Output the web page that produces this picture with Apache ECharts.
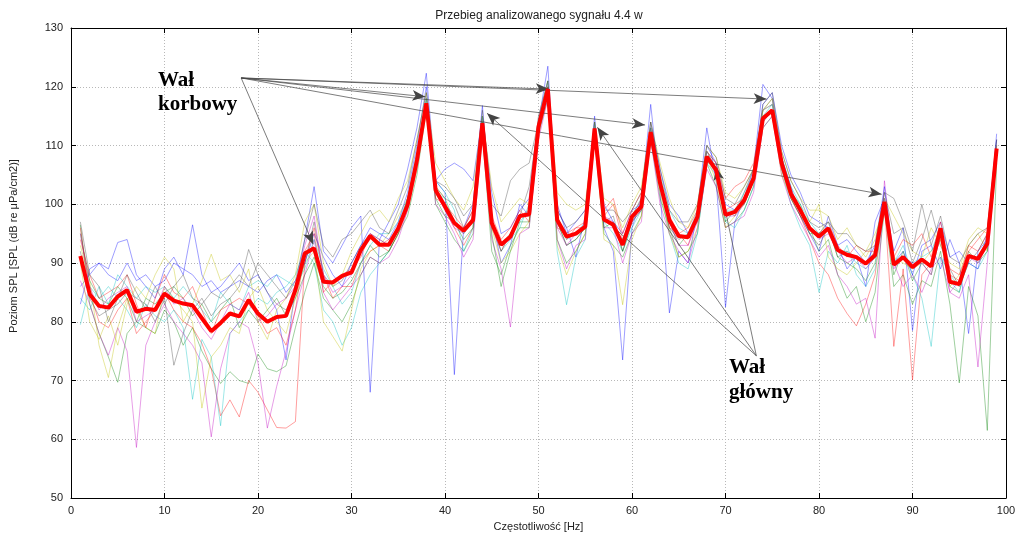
<!DOCTYPE html>
<html>
<head>
<meta charset="utf-8">
<script src="https://cdn.jsdelivr.net/npm/echarts@6/dist/echarts.min.js"></script>
<style>
html,body{margin:0;padding:0;background:#fff;overflow:hidden;}
#chart{width:1024px;height:534px;}
</style>
</head>
<body>
<div id="chart"></div>
<script>
const freqHz = [1,2,3,4,5,6,7,8,9,10,11,12,13,14,15,16,17,18,19,20,21,22,23,24,25,26,27,28,29,30,31,32,33,34,35,36,37,38,39,40,41,42,43,44,45,46,47,48,49,50,51,52,53,54,55,56,57,58,59,60,61,62,63,64,65,66,67,68,69,70,71,72,73,74,75,76,77,78,79,80,81,82,83,84,85,86,87,88,89,90,91,92,93,94,95,96,97,98,99];

const meanSPL = [91.2,84.7,82.7,82.4,84.3,85.4,81.7,82.2,82.0,84.8,
83.6,83.1,82.8,80.6,78.4,79.8,81.4,80.9,83.7,81.4,
80.0,80.8,81.0,85.4,91.6,92.5,86.8,86.7,87.8,88.4,
92.2,94.6,93.1,93.1,95.9,99.9,107.5,117.2,102.4,99.6,
96.8,95.5,97.3,113.8,96.8,93.1,94.5,98.0,98.3,113.2,
119.6,97.3,94.5,95.0,96.2,112.9,97.4,96.5,93.1,97.9,
99.6,112.3,103.6,97.3,94.6,94.4,97.9,108.1,105.8,98.2,
98.7,100.7,104.4,114.6,116.0,107.0,101.8,99.0,95.9,94.5,
95.9,92.2,91.4,91.0,89.9,91.3,100.4,89.7,91.0,89.3,
90.6,89.4,95.9,86.8,86.4,91.2,90.7,93.3,109.5];

const blue1 = [86,88,90,89,93.5,94,88,86,84,89,
91,88,96.5,88,85,86,88,90,87,88,
85,82,73.5,86,94,103,92,90,93,96,
98,68,94,97,100,106,113,122.3,104,102,
71,96,100,116.8,98,90,93,100,98,114,
123.5,99,96,91,98,115,96,92,73.5,96,
101,117,102,81.5,92,90,99,113,104,82.5,
97,101,106,120.4,118,108,103,98,95,92,
98,93,89,91,86,97,101,92,96,78.5,
92,93,89,94,90,78,92,94,112];
const blue2 = [83,89,90,88,87,90,87,88,86,87,
90,89,88,86,87,85,86,87,86,85,
87,88,85,87,90,95,91,88,86,90,
93,96,95,94,97,102,110,120,104,106,
107,106,104,115,102,95,96,99,101,115,
121,100,95,97,99,114,100,97,95,99,
100,114,106,100,98,95,98,110,107,100,
99,101,105,117,119,110,105,102,98,97,
96,93,94,92,90,93,103,90,92,88,
93,94,97,91,92,90,89,95,111];
const green1 = [96.5,83,78,74,69.7,78,80,79,78,82,
80,76,79,75,72,69.5,71.5,70,69.5,74.5,
72,71.5,72.5,79,85,90,84,82,80,83,
88,91,90,92,95,98,105,116,100,97,
94,92,95,112,92,88,93,96,96,112,
118,94,90,92,95,111,95,93,91,95,
98,111,101,96,91,92,95,107,103,96,
97,99,103,113,115,106,101,98,96,92,
94,88,84,86,80,85,99,86,88,83,
87,86,92,83,69.6,86,81,61.5,107];
const green2 = [95,87,84,83,86,84,80,84,83,85,
86,84,81,83,80,82,84,79,82,80,
82,84,81,84,88,91,86,84,85,87,
90,93,91,92,95,101,108,117,101,98,
97,94,96,114,95,86,92,97,97,112,
119,97,93,94,96,112,96,97,92,97,
99,112,103,97,93,95,98,108,106,97,
99,100,104,114,116,107,102,100,95,95,
96,91,90,89,87,90,100,88,92,87,
90,88,95,86,85,92,90,92,108];
const red1 = [96,85,80,79,82,84,78,80,82,85,
82,80,79,76.3,72,64,66.7,63.8,70,68,
65,62,61.9,63,90,96,88,84,86,86,
90,92,93,92,95,99,106,117,103,99,
96,93,96,113,96,92,95,98,99,113,
119,98,94,96,96,112,98,100,94,98,
101,112,104,98,95,93,98,109,106,99,
100,101,104,115,116,106,101,98,94,90,
88,84,81.4,79.3,83,88,100,75.8,89,70.1,
88,90,94,88,87,93,92,95,110];
const red2 = [94,88,84,85,86,88,83,79,84,88,
85,84,86,82,78,82,83,84,83,81,
78,79,76,82,92,95,85,87,88,89,
91,95,93,94,96,100,108,117,101,100,
98,96,99,114,98,94,96,99,97,113,
120,96,95,96,97,113,99,101,95,99,
102,113,104,96,95,96,99,109,107,101,
103,104,107,116,117,108,102,99,96,95,
97,93,91,93,92,92,100,91,94,93,
95,91,97,89,88,92,94,96,109];
const cyan1 = [79.5,86,84,86,84,82,79,83,81,80,
82,79,66.8,77,74,62.3,78,80,82,84,
83,85,86,88,92,90,82,80,76,79,
85,88,90,92,96,100,108,118,104,102,
99,92,96,114,97,92,94,96,100,114,
120,92,82.9,91,94,113,97,95,92,96,
99,113,103,95,90,89,95,107,105,97,
96,99,103,115,117,106,100,96,93,85,
92,90,93,88,86,89,99,90,93,88,
84,75.8,91,88,86,90,89,92,108];
const cyan2 = [84,82,86,83,88,86,84,86,85,86,
84,86,84,82,80,85,83,82,86,87,
86,88,87,86,89,94,89,86,83,85,
90,93,95,95,97,101,109,118,102,101,
97,95,97,115,97,93,95,97,99,114,
121,98,94,95,97,114,98,96,94,98,
101,113,105,99,96,95,99,109,106,99,
99,102,105,116,117,108,103,100,97,95,
97,92,92,90,89,91,101,90,91,90,
91,92,96,87,85,91,91,94,110];
const magenta1 = [87,83,78,74.3,79,75,58.6,76,80,83,
80,78,76,73,60.4,72,78,80,79,73,
61.9,69,75,82,88,94,85,82,84,86,
88,91,90,91,94,99,107,118,100,98,
95,91,94,112,94,89,79.1,95,96,111,
118,94,89,93,94,111,96,96,90,95,
97,111,100,95,92,90,96,106,103,96,
97,98,102,113,115,105,100,97,94,91,
93,88,86,83,84,77.2,104,90,86,88,
85,89,91,85,84,88,72.3,90,109];
const magenta2 = [95,86,82,84,85,86,80,81,82,86,
83,84,82,79,77,80,83,82,85,80,
81,83,84,86,93,98,88,85,86,88,
92,95,94,93,96,100,107,117,102,99,
96,95,98,113,96,93,94,98,98,113,
119,96,93,95,96,113,98,97,93,97,
99,112,103,97,93,93,97,108,105,98,
98,100,104,114,116,107,102,99,96,94,
95,92,90,91,89,91,101,89,91,90,
90,88,95,85,87,91,90,93,110];
const yellow1 = [93,87,76,70.5,79,84,82,79,78,86,
84,82,80,65.3,74,76,79,78,84,86,
82,80,78,84,90,92,80,77.5,75,82,
89,92,93,95,98,101,108,118,103,101,
97,95,98,114,96,90,92,95,97,113,
119,93,88,92,95,112,94,93,82.9,94,
98,112,102,95,91,92,96,108,104,96,
98,100,104,115,116,105,101,99,97,100,
91,89,88,90,92,95,99,91,90,89,
90,92,94,86,88,93,95,92,109];
const yellow2 = [90,80,77,81,76,83,86,84,88,91,
89,80,83,87,91.5,87,88,85,89,80,
77,82,84,88,97,100,90,86,88,92,
95,98,99,97,101,104,111,119,107,104,
101,99,103,115,103,97,99,101,100,115,
121,102,100,99,100,114,101,100,96,100,
103,114,107,101,97,96,100,110,108,102,
101,103,106,116,118,109,104,101,99,99,
98,94,96,93,91,94,101,98,95,92,
91,96,93,90,89,94,96,95,110];
const gray1 = [92,84,81,82,83,85,84,83,80,84,
72.6,78,82,84,81,83,84,86,92.3,88,
85,83,82,85,90,97,88,86,87,90,
93,95,94,93,96,101,108,117,103,101,
100,96,99,115,97,92,95,98,103,114,
120,97,93,94,96,113,97,98,92,97,
100,113,104,96,94,95,97,109,107,99,
98,102,106,116,118,107,101,98,95,93,
96,91,92,91,90,92,102,95,96,90,
94,99,93,89,86,90,92,95,111];
const gray2 = [97,88,86,80,84,88,85,82,86,83,
86,88,84,83,85,84,86,88,86,90,
88,86,84,87,94,100,93,91,94,95,
97,99,96,95,99,103,111,119,104,103,
101,98,100,116,100,98,104,106,107,114,
121,99,96,97,99,114,99,99,97,99,
102,114,106,99,97,97,100,110,108,101,
100,103,106,117,119,109,104,101,97,96,
97,95,95,93,92,93,102,101,97,92,
100,93,98,91,90,93,95,96,111];

const thinLines = [
  {values: blue1, color: '#0000ff'},
  {values: green1, color: '#008000'},
  {values: red1, color: '#ff0000'},
  {values: cyan1, color: '#00bfbf'},
  {values: magenta1, color: '#bf00bf'},
  {values: yellow1, color: '#bfbf00'},
  {values: gray1, color: '#404040'},
  {values: blue2, color: '#0000ff'},
  {values: green2, color: '#008000'},
  {values: red2, color: '#ff0000'},
  {values: cyan2, color: '#00bfbf'},
  {values: magenta2, color: '#bf00bf'},
  {values: yellow2, color: '#bfbf00'},
  {values: gray2, color: '#404040'}
];

const xTicks = [0,10,20,30,40,50,60,70,80,90,100];
const yTicks = [50,60,70,80,90,100,110,120,130];

// annotation anchors (data coordinates)
const korbowyFrom = [18.2, 121.5];
const korbowyTo = [[25.9, 93.2],[37.9, 118.3],[51.1, 119.6],[61.4, 113.5],[74.4, 117.9],[86.7, 101.7]];
const glownyFrom = [73.3, 74.2];
const glownyTo = [[44.5, 115.5],[56.3, 113.1],[69.0, 106.3]];

const pairs = v => freqHz.map((f, i) => [f, v[i]]);

const series = thinLines.map(t => ({
  type: 'line', data: pairs(t.values), symbol: 'none', silent: true,
  lineStyle: {color: t.color, width: 0.7, opacity: 0.55}, z: 2
}));

const arrowData = [];
korbowyTo.forEach(p => arrowData.push([{coord: korbowyFrom}, {coord: p}]));
glownyTo.forEach(p => arrowData.push([{coord: glownyFrom}, {coord: p}]));

series.push({
  type: 'line', data: pairs(meanSPL), symbol: 'none', silent: true,
  lineStyle: {color: '#ff0000', width: 4}, z: 5,
  markLine: {
    silent: true, animation: false,
    symbol: ['none', 'arrow'], symbolSize: [8, 13],
    label: {show: false},
    lineStyle: {color: '#444', width: 0.7, type: 'solid'},
    emphasis: {disabled: true},
    data: arrowData
  }
});

const labelFont = {fontFamily: 'Liberation Sans, Arial, sans-serif', fontSize: 11, color: '#222'};
const axisCommon = {
  axisLine: {show: true, onZero: false, lineStyle: {color: '#000', width: 1}},
  axisTick: {show: true, inside: true, length: 5, lineStyle: {color: '#000'}}
};

const chart = echarts.init(document.getElementById('chart'), null, {renderer: 'canvas'});
chart.setOption({
  animation: false,
  backgroundColor: '#fff',
  title: {
    text: 'Przebieg analizowanego sygnału 4.4 w',
    left: 534, top: 5, textAlign: 'center',
    textStyle: {fontFamily: 'Liberation Sans, Arial, sans-serif', fontSize: 12, fontWeight: 'normal', color: '#222'}
  },
  grid: {left: 71, right: 18, top: 28, bottom: 36, containLabel: false, outerBoundsMode: 'none'},
  xAxis: [
    Object.assign({
      type: 'value', min: xTicks[0], max: xTicks[xTicks.length-1], interval: 10, position: 'bottom',
      name: 'Częstotliwość [Hz]', nameLocation: 'middle', nameGap: 23,
      nameTextStyle: labelFont,
      axisLabel: Object.assign({margin: 7}, labelFont),
      splitLine: {show: true, lineStyle: {color: '#b8b8b8', type: [1, 2], width: 1}}
    }, axisCommon),
    Object.assign({
      type: 'value', min: xTicks[0], max: xTicks[xTicks.length-1], interval: 10, position: 'top',
      axisLabel: {show: false}, splitLine: {show: false}
    }, axisCommon)
  ],
  yAxis: [
    Object.assign({
      type: 'value', min: yTicks[0], max: yTicks[yTicks.length-1], interval: 10, position: 'left',
      axisLabel: Object.assign({margin: 8}, labelFont),
      splitLine: {show: true, lineStyle: {color: '#b8b8b8', type: [1, 2], width: 1}}
    }, axisCommon),
    Object.assign({
      type: 'value', min: yTicks[0], max: yTicks[yTicks.length-1], interval: 10, position: 'right',
      axisLabel: {show: false}, splitLine: {show: false}
    }, axisCommon)
  ],
  graphic: [
    {type: 'text', x: 14, y: 246, rotation: Math.PI/2, silent: true,
     style: {text: 'Poziom SPL [SPL (dB re μPa/cm2)]', font: '11px "Liberation Sans", Arial, sans-serif', fill: '#222', textAlign: 'center', textVerticalAlign: 'middle'}},
    {type: 'text', x: 158, y: 91, silent: true, z: 10,
     style: {text: 'Wał', font: 'bold 21px "Liberation Serif", "Times New Roman", serif', fill: '#000', textAlign: 'left', textVerticalAlign: 'bottom'}},
    {type: 'text', x: 158, y: 115, silent: true, z: 10,
     style: {text: 'korbowy', font: 'bold 21px "Liberation Serif", "Times New Roman", serif', fill: '#000', textAlign: 'left', textVerticalAlign: 'bottom'}},
    {type: 'text', x: 729, y: 378, silent: true, z: 10,
     style: {text: 'Wał', font: 'bold 21px "Liberation Serif", "Times New Roman", serif', fill: '#000', textAlign: 'left', textVerticalAlign: 'bottom'}},
    {type: 'text', x: 729, y: 403, silent: true, z: 10,
     style: {text: 'główny', font: 'bold 21px "Liberation Serif", "Times New Roman", serif', fill: '#000', textAlign: 'left', textVerticalAlign: 'bottom'}}
  ],
  series: series
});
</script>
</body>
</html>
